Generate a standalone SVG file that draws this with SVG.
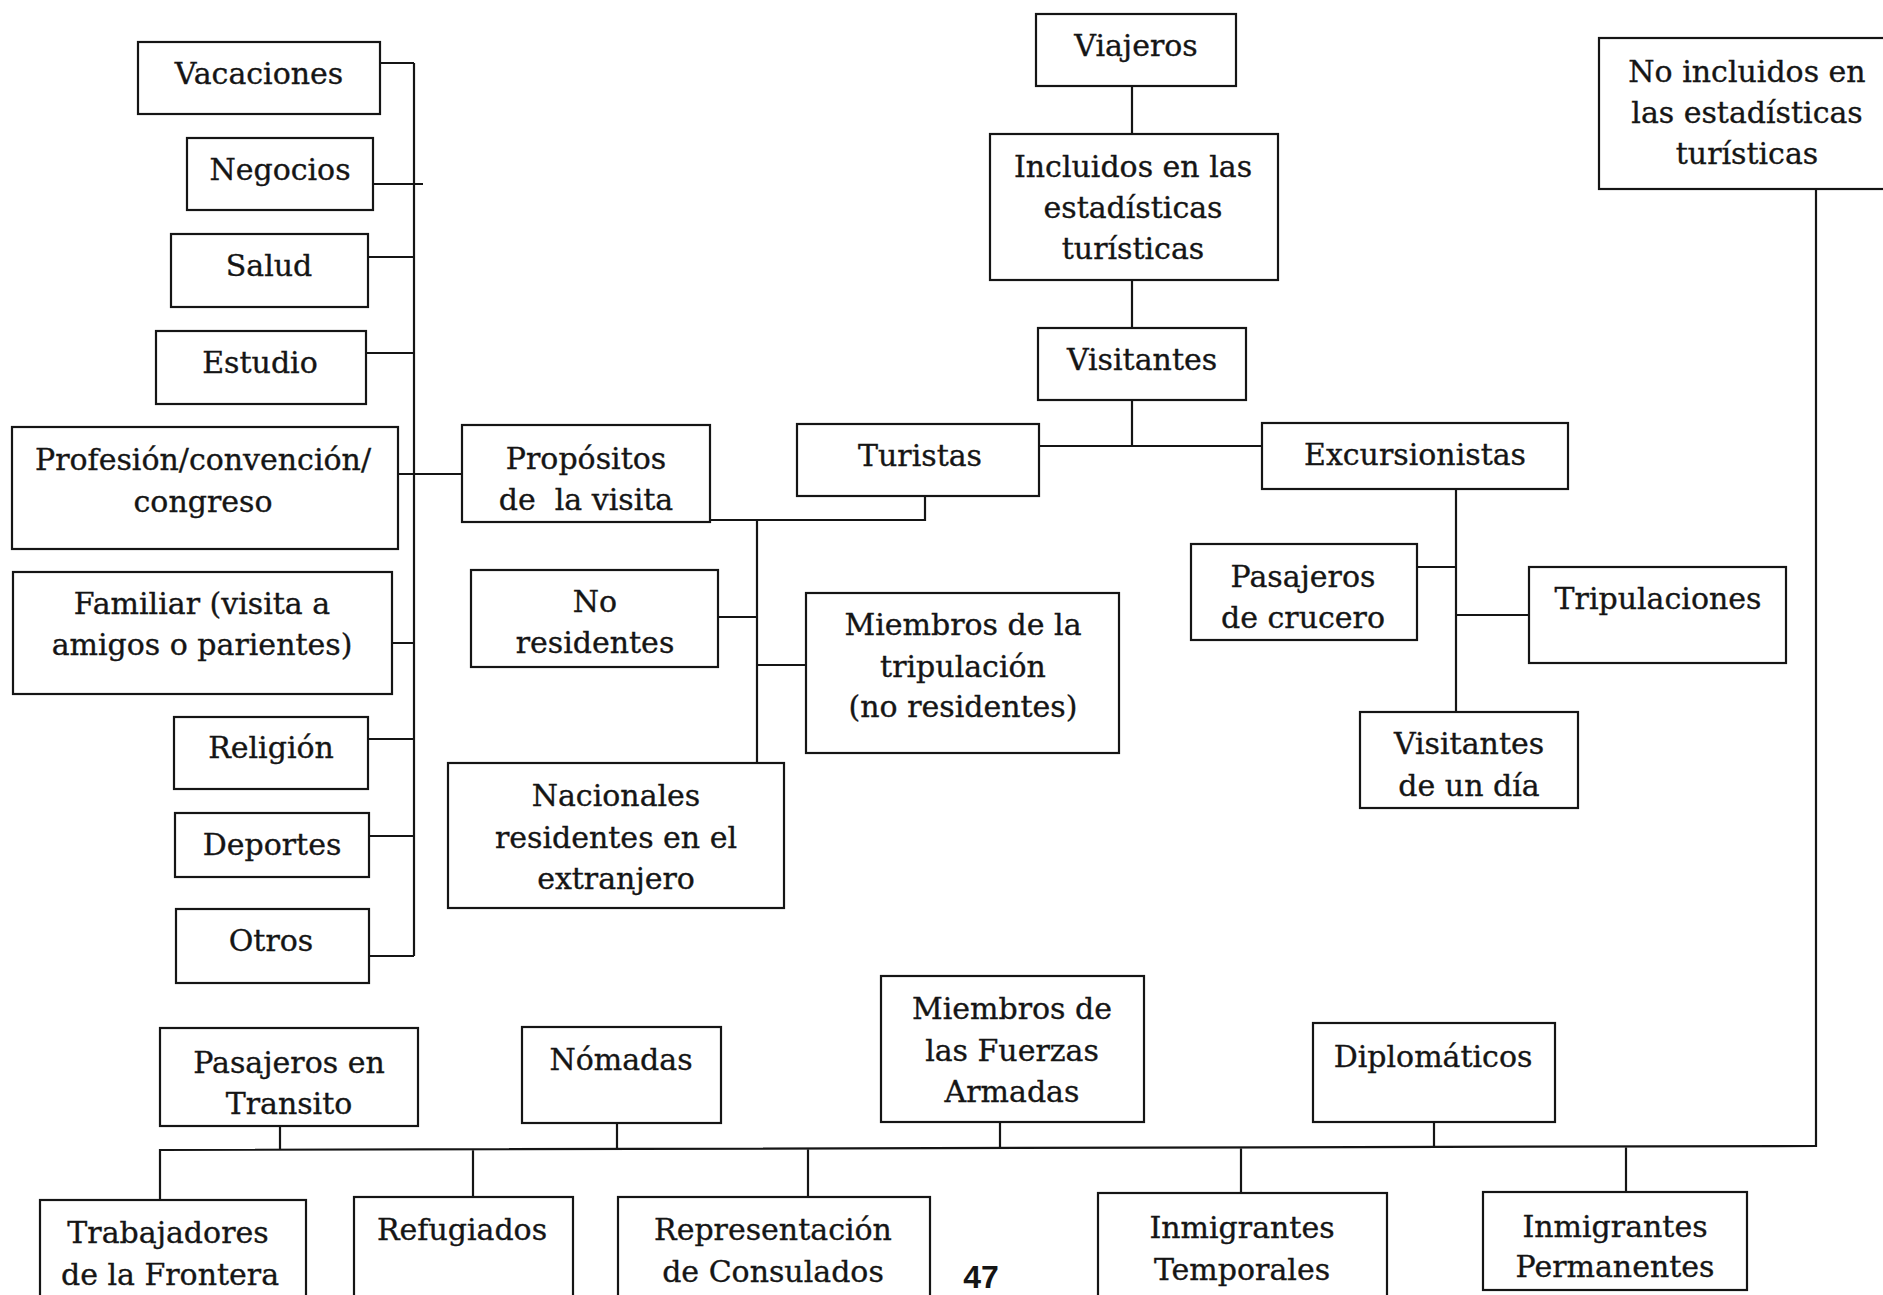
<svg xmlns="http://www.w3.org/2000/svg" width="1883" height="1295" viewBox="0 0 1883 1295">
<style>
.box{fill:#fff;stroke:#151515;stroke-width:2.2}
.c{fill:none;stroke:#151515;stroke-width:2.2}
.t{font-family:"DejaVu Serif","Liberation Serif",serif;font-size:30px;text-anchor:middle;fill:#151515;stroke:#151515;stroke-width:0.35}
.pg{font-family:"Liberation Sans",Arial,sans-serif;font-size:32px;font-weight:bold;text-anchor:middle;fill:#151515}
</style>
<rect width="1883" height="1295" fill="#fff"/>
<g id="connectors">
<path class="c" d="M414 63V956 M380 63H414 M373 184H423 M368 257H414 M366 353H414 M398 474H462 M392 643H414 M368 739H414 M369 836H414 M369 956H414"/>
<path class="c" d="M710 520H925V496 M757 520V763 M718 617H757 M757 665H806"/>
<path class="c" d="M1132 86V134 M1132 280V328 M1132 400V446 M1039 446H1262 M1456 489V712 M1417 567H1456 M1456 615H1529"/>
<path class="c" d="M1816 189V1146 L160 1150 V1200 M280 1126V1150 M617 1123V1150 M1000 1122V1148 M1434 1122V1147 M473 1150V1197 M808 1149V1197 M1241 1148V1193 M1626 1146V1192"/>
</g>
<g id="vacaciones"><rect class="box" x="138" y="42" width="242" height="72"/><text class="t" x="259" y="84">Vacaciones</text></g>
<g id="negocios"><rect class="box" x="187" y="138" width="186" height="72"/><text class="t" x="280" y="180">Negocios</text></g>
<g id="salud"><rect class="box" x="171" y="234" width="197" height="73"/><text class="t" x="269" y="276">Salud</text></g>
<g id="estudio"><rect class="box" x="156" y="331" width="210" height="73"/><text class="t" x="260" y="373">Estudio</text></g>
<g id="profesion"><rect class="box" x="12" y="427" width="386" height="122"/><text class="t" x="203" y="470">Profesión/convención/</text><text class="t" x="203" y="512">congreso</text></g>
<g id="familiar"><rect class="box" x="13" y="572" width="379" height="122"/><text class="t" x="202" y="614">Familiar (visita a</text><text class="t" x="202" y="655">amigos o parientes)</text></g>
<g id="religion"><rect class="box" x="174" y="717" width="194" height="72"/><text class="t" x="271" y="758">Religión</text></g>
<g id="deportes"><rect class="box" x="175" y="813" width="194" height="64"/><text class="t" x="272" y="855">Deportes</text></g>
<g id="otros"><rect class="box" x="176" y="909" width="193" height="74"/><text class="t" x="271" y="951">Otros</text></g>
<g id="propositos"><rect class="box" x="462" y="425" width="248" height="97"/><text class="t" x="586" y="469">Propósitos</text><text class="t" x="586" y="510" xml:space="preserve">de  la visita</text></g>
<g id="turistas"><rect class="box" x="797" y="424" width="242" height="72"/><text class="t" x="920" y="466">Turistas</text></g>
<g id="viajeros"><rect class="box" x="1036" y="14" width="200" height="72"/><text class="t" x="1136" y="56">Viajeros</text></g>
<g id="incluidos"><rect class="box" x="990" y="134" width="288" height="146"/><text class="t" x="1133" y="177">Incluidos en las</text><text class="t" x="1133" y="218">estadísticas</text><text class="t" x="1133" y="259">turísticas</text></g>
<g id="visitantes"><rect class="box" x="1038" y="328" width="208" height="72"/><text class="t" x="1142" y="370">Visitantes</text></g>
<g id="excursionistas"><rect class="box" x="1262" y="423" width="306" height="66"/><text class="t" x="1415" y="465">Excursionistas</text></g>
<g id="no-incluidos"><rect class="box" x="1599" y="38" width="290" height="151"/><text class="t" x="1747" y="82">No incluidos en</text><text class="t" x="1747" y="123">las estadísticas</text><text class="t" x="1747" y="164">turísticas</text></g>
<g id="no-residentes"><rect class="box" x="471" y="570" width="247" height="97"/><text class="t" x="595" y="612">No</text><text class="t" x="595" y="653">residentes</text></g>
<g id="miembros-tripulacion"><rect class="box" x="806" y="593" width="313" height="160"/><text class="t" x="963" y="635">Miembros de la</text><text class="t" x="963" y="677">tripulación</text><text class="t" x="963" y="717">(no residentes)</text></g>
<g id="nacionales"><rect class="box" x="448" y="763" width="336" height="145"/><text class="t" x="616" y="806">Nacionales</text><text class="t" x="616" y="848">residentes en el</text><text class="t" x="616" y="889">extranjero</text></g>
<g id="pasajeros-crucero"><rect class="box" x="1191" y="544" width="226" height="96"/><text class="t" x="1303" y="587">Pasajeros</text><text class="t" x="1303" y="628">de crucero</text></g>
<g id="tripulaciones"><rect class="box" x="1529" y="567" width="257" height="96"/><text class="t" x="1658" y="609">Tripulaciones</text></g>
<g id="visitantes-dia"><rect class="box" x="1360" y="712" width="218" height="96"/><text class="t" x="1469" y="754">Visitantes</text><text class="t" x="1469" y="796">de un día</text></g>
<g id="pasajeros-transito"><rect class="box" x="160" y="1028" width="258" height="98"/><text class="t" x="289" y="1073">Pasajeros en</text><text class="t" x="289" y="1114">Transito</text></g>
<g id="nomadas"><rect class="box" x="522" y="1027" width="199" height="96"/><text class="t" x="621" y="1070">Nómadas</text></g>
<g id="fuerzas-armadas"><rect class="box" x="881" y="976" width="263" height="146"/><text class="t" x="1012" y="1019">Miembros de</text><text class="t" x="1012" y="1061">las Fuerzas</text><text class="t" x="1012" y="1102">Armadas</text></g>
<g id="diplomaticos"><rect class="box" x="1313" y="1023" width="242" height="99"/><text class="t" x="1433" y="1067">Diplomáticos</text></g>
<g id="trabajadores"><rect class="box" x="40" y="1200" width="266" height="110"/><text class="t" x="168" y="1243">Trabajadores</text><text class="t" x="170" y="1285">de la Frontera</text></g>
<g id="refugiados"><rect class="box" x="354" y="1197" width="219" height="110"/><text class="t" x="462" y="1240">Refugiados</text></g>
<g id="representacion"><rect class="box" x="618" y="1197" width="312" height="110"/><text class="t" x="773" y="1240">Representación</text><text class="t" x="773" y="1282">de Consulados</text></g>
<g id="inmigrantes-temporales"><rect class="box" x="1098" y="1193" width="289" height="110"/><text class="t" x="1242" y="1238">Inmigrantes</text><text class="t" x="1242" y="1280">Temporales</text></g>
<g id="inmigrantes-permanentes"><rect class="box" x="1483" y="1192" width="264" height="98"/><text class="t" x="1615" y="1237">Inmigrantes</text><text class="t" x="1615" y="1277">Permanentes</text></g>
<text class="pg" x="981" y="1288">47</text>
</svg>
